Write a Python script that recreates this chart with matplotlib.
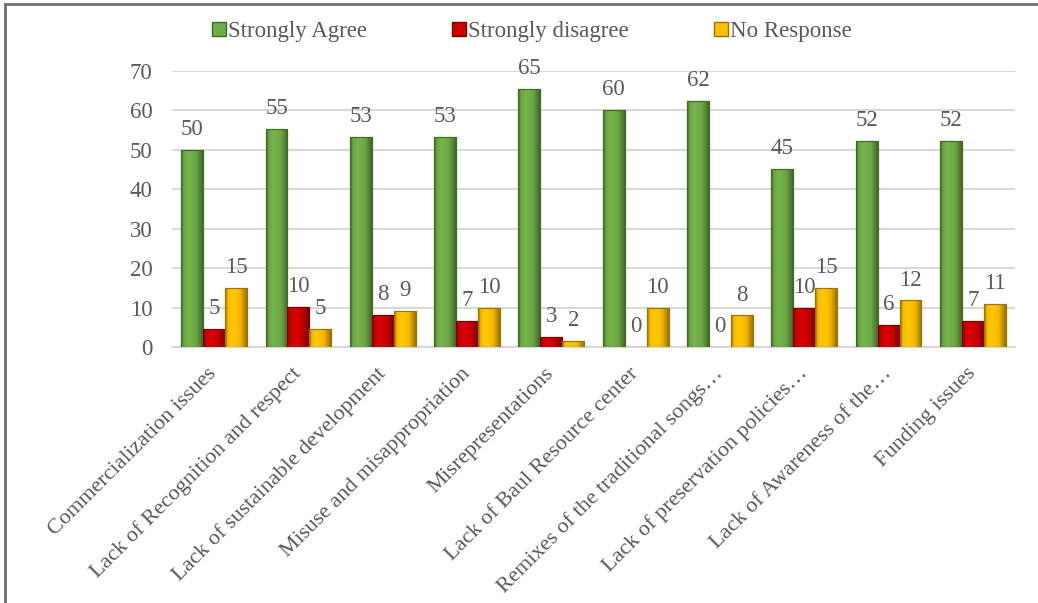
import numpy as np
import matplotlib
matplotlib.use("Agg")
import matplotlib.pyplot as plt
from matplotlib.patches import Patch, Rectangle
from matplotlib.colors import to_rgb

categories = [
    "Commercialization issues",
    "Lack of Recognition and respect",
    "Lack of sustainable development",
    "Misuse and misappropriation",
    "Misrepresentations",
    "Lack of Baul Resource center",
    "Remixes of the traditional songs\u2026",
    "Lack of preservation policies\u2026",
    "Lack of Awareness of the\u2026",
    "Funding issues",
]
series_names = ["Strongly Agree", "Strongly disagree", "No Response"]
agree = [50.0, 55.4, 53.3, 53.3, 65.4, 60.2, 62.4, 45.1, 52.3, 52.3]
disagree = [4.6, 10.2, 8.1, 6.6, 2.6, 0.0, 0.0, 10.0, 5.6, 6.7]
no_resp = [15.0, 4.6, 9.1, 10.0, 1.5, 10.0, 8.0, 15.0, 11.8, 11.0]

colors = ["#70AD47", "#D00000", "#FFC000"]
edges = ["#3E6B22", "#7A0000", "#9A7400"]
txt = "#595959"

plt.rcParams["font.family"] = ["Liberation Serif", "DejaVu Serif"]

fig = plt.figure(figsize=(10.38, 6.03), dpi=100)
ax = fig.add_axes([172 / 1038, 1 - 347 / 603, (1015 - 172) / 1038, (347 - 71) / 603])

x = np.arange(len(categories))
w = 0.26
prof_t = [0.0, 0.12, 0.35, 0.7, 1.0]
prof_f = [0.55, 0.95, 1.05, 0.95, 0.6]
tt = np.linspace(0, 1, 64)
shade = np.interp(tt, prof_t, prof_f)

for k, vals in enumerate([agree, disagree, no_resp]):
    base = np.array(to_rgb(colors[k]))
    grad = np.clip(base[None, :] * shade[:, None], 0, 1)[None, :, :]
    bars = ax.bar(x + (k - 1) * w, vals, w, color=colors[k],
                  edgecolor=edges[k], linewidth=0.8, zorder=3)
    for b, v in zip(bars, vals):
        if v > 0:
            im = ax.imshow(grad, extent=(b.get_x(), b.get_x() + w, 0, v),
                           aspect="auto", zorder=3.5, interpolation="bilinear")
            im.set_clip_path(b)
            ax.add_patch(Rectangle((b.get_x(), 0), w, v, fill=False,
                                   edgecolor=edges[k], linewidth=0.8, zorder=4))
        ax.annotate(str(int(v + 0.5)), (b.get_x() + w / 2, v),
                    xytext=(0, 7), textcoords="offset points",
                    ha="center", va="bottom", fontsize=16.5, color=txt)

ax.set_xlim(-0.5, len(categories) - 0.5)
ax.set_ylim(0, 70)
ax.set_yticks(range(0, 71, 10))
ax.yaxis.grid(True, color="#D9D9D9", linewidth=1.5, zorder=0)
ax.set_axisbelow(True)
for s in ["top", "right", "left"]:
    ax.spines[s].set_visible(False)
ax.spines["bottom"].set_color("#D9D9D9")
ax.spines["bottom"].set_linewidth(1.5)
ax.tick_params(axis="both", length=0, colors=txt, labelsize=16.5)
ax.tick_params(axis="y", pad=14)
ax.set_xticks(x)
ax.set_xticklabels(categories, rotation=45, ha="right", va="center",
                   rotation_mode="anchor", fontsize=16, color=txt)
ax.tick_params(axis="x", pad=17)

handles = [Patch(facecolor=colors[i], edgecolor=edges[i], label=series_names[i])
           for i in range(3)]
leg = fig.legend(handles=handles, loc="center", bbox_to_anchor=(532 / 1038, 0.948),
                 ncol=3, frameon=False, fontsize=16.5, handlelength=0.6,
                 handleheight=0.6, handletextpad=0.1, columnspacing=3.7)
for t in leg.get_texts():
    t.set_color(txt)

fig.patches.append(Rectangle((5 / 1038, -0.1), 1.2, 1.1 - 4.5 / 603, fill=False,
                             edgecolor="#6E6E6E", linewidth=2,
                             transform=fig.transFigure, figure=fig))

fig.savefig("out.png", dpi=100)
